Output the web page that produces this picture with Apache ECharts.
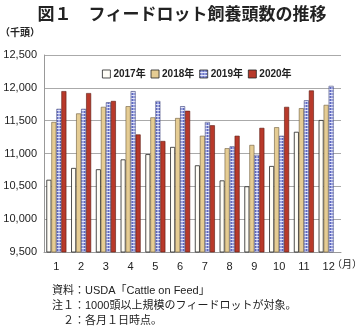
<!DOCTYPE html>
<html><head><meta charset="utf-8">
<script src="https://cdn.jsdelivr.net/npm/echarts@6/dist/echarts.min.js"></script>
<style>html,body{margin:0;padding:0;background:#fff}#c{width:364px;height:330px}</style>
</head><body><div id="c"></div>
<script>
const months = ['1','2','3','4','5','6','7','8','9','10','11','12'];
const seriesNames = ['2017年','2018年','2019年','2020年'];
const v2017 = [10600,10780,10760,10910,10990,11100,10820,10590,10500,10810,11330,11510];
const v2018 = [11480,11610,11710,11720,11550,11540,11270,11080,11130,11400,11690,11740];
const v2019 = [11680,11680,11780,11950,11800,11720,11480,11110,10980,11270,11810,12030];
const v2020 = [11950,11920,11800,11290,11190,11650,11430,11270,11390,11710,11960,null];
const yTicks = [9500,10000,10500,11000,11500,12000,12500];

const pc = document.createElement('canvas');
pc.width = 3; pc.height = 3;
const g = pc.getContext('2d');
g.fillStyle = '#9ca4e0'; g.fillRect(0,0,3,3);
g.fillStyle = '#5f69c0'; g.fillRect(0,0,1,3);
g.fillStyle = '#e4e7fb'; g.fillRect(0,2,3,1);
const pattern = {image: pc, repeat: 'repeat'};

const font = '"Liberation Sans", "Noto Sans CJK JP", sans-serif';
const chart = echarts.init(document.getElementById('c'), null, {renderer:'canvas'});
const styles = [
  {color:'#fffdf6', borderColor:'#222', borderWidth:0.8},
  {color:'#e5cc93', borderColor:'#6b5a3a', borderWidth:0.6},
  {color:pattern, borderColor:'#4a4f80', borderWidth:0.6},
  {color:'#b8392a', borderColor:'#5a1a10', borderWidth:0.6}
];
const legendIcons = ['#fffdf6','#e5cc93',pattern,'#b8392a'];
const data = [v2017, v2018, v2019, v2020];
chart.setOption({
  animation:false,
  textStyle:{fontFamily:font},
  title:{text:'図１　フィードロット飼養頭数の推移', left:'center', top:0,
    textStyle:{fontFamily:'"Noto Sans CJK JP", sans-serif', fontSize:17, fontWeight:'bold', color:'#222'}},
  legend:{top:64, left:97, itemWidth:8, itemHeight:8, itemGap:5,
    textStyle:{fontFamily:font, fontSize:10, fontWeight:'bold', color:'#222', padding:[0,0,0,-2]},
    data: seriesNames.map((n,i)=>({name:n, icon:'rect', itemStyle:{color:legendIcons[i], borderColor:'#222', borderWidth:0.8}}))},
  grid:{left:44, right:23, top:55, bottom:78},
  xAxis:{type:'category', data:months,
    axisLine:{lineStyle:{color:'#999'}}, axisTick:{show:false},
    axisLabel:{color:'#222', fontSize:11, margin:9, fontFamily:font}},
  yAxis:{type:'value', min:9500, max:12500, interval:500,
    axisLine:{show:true, lineStyle:{color:'#999'}}, axisTick:{show:false},
    splitLine:{lineStyle:{color:'#aaa'}},
    axisLabel:{color:'#222', fontSize:11, margin:7, fontFamily:font, formatter:v=>v.toLocaleString('en-US')}},
  graphic:[
    {type:'text', left:0, top:27, style:{text:'（千頭）', font:'bold 10px "Noto Sans CJK JP", sans-serif', fill:'#222'}},
    {type:'text', left:332, top:259, style:{text:'（月）', font:'10px "Noto Sans CJK JP", sans-serif', fill:'#222'}},
    {type:'text', left:52, top:285, style:{text:'資料：USDA「Cattle on Feed」', font:'11px '+font, fill:'#222'}},
    {type:'text', left:52, top:300, style:{text:'注１：1000頭以上規模のフィードロットが対象。', font:'11px '+font, fill:'#222'}},
    {type:'text', left:52, top:315, style:{text:'　２：各月１日時点。', font:'11px '+font, fill:'#222'}}
  ],
  series: seriesNames.map((n,i)=>({name:n, type:'bar', data:data[i], barWidth:5, barGap:'0%', itemStyle:styles[i]}))
});
</script></body></html>
